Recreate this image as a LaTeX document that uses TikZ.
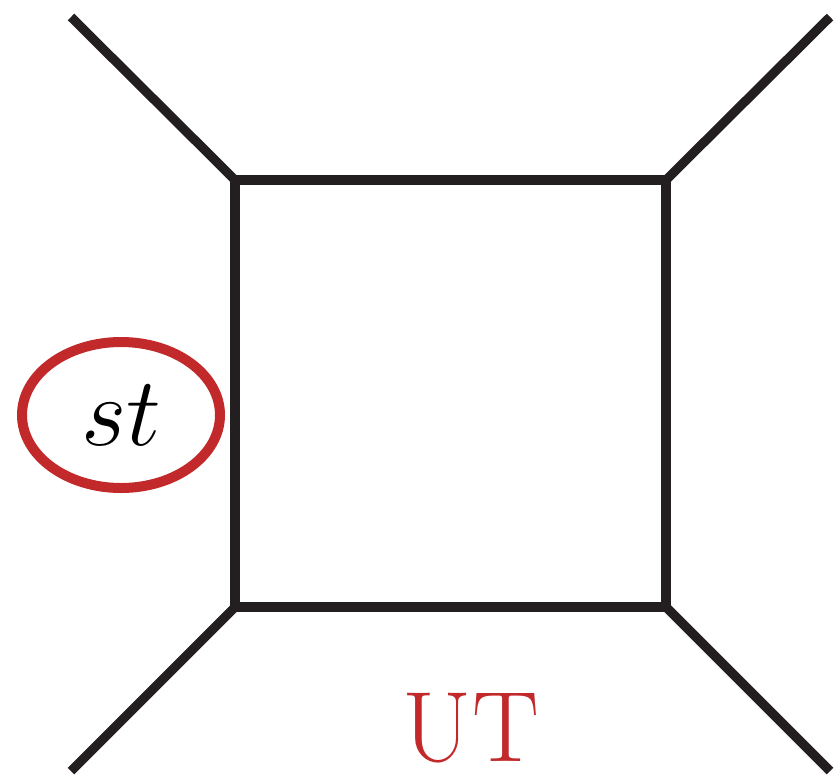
\documentclass[tikz,border=0pt]{standalone}
\usepackage{fix-cm}
\usetikzlibrary{shapes.geometric}
\definecolor{inkblack}{HTML}{231F20}
\definecolor{markred}{HTML}{C1292B}

\begin{document}
\begin{tikzpicture}[x=0.5pt,y=-0.5pt,
  prop/.style={draw=inkblack, line width=4.6pt, line cap=butt, line join=miter}]
\useasboundingbox (0,0) rectangle (834,777);
% box corners
\coordinate (tl) at (235,180);
\coordinate (tr) at (666,180);
\coordinate (br) at (666,607);
\coordinate (bl) at (235,607);
% external legs
\coordinate (ltl) at (71,17);
\coordinate (ltr) at (830,17);
\coordinate (lbr) at (830,771);
\coordinate (lbl) at (71,771);
\draw[prop] (tl) -- (tr) -- (br) -- (bl) -- cycle;
\draw[prop] (ltl) -- (tl);
\draw[prop] (ltr) -- (tr);
\draw[prop] (lbr) -- (br);
\draw[prop] (lbl) -- (bl);
% labels
\node[ellipse, draw=markred, line width=5pt, inner sep=0pt,
  minimum width=99pt, minimum height=73pt] (cut) at (121,415) {\fontsize{49}{55}\selectfont$st$};
\node[text=markred, anchor=base, inner sep=0pt] (ut) at (471,761) {\fontsize{50}{56}\selectfont UT};
\end{tikzpicture}
\end{document}
